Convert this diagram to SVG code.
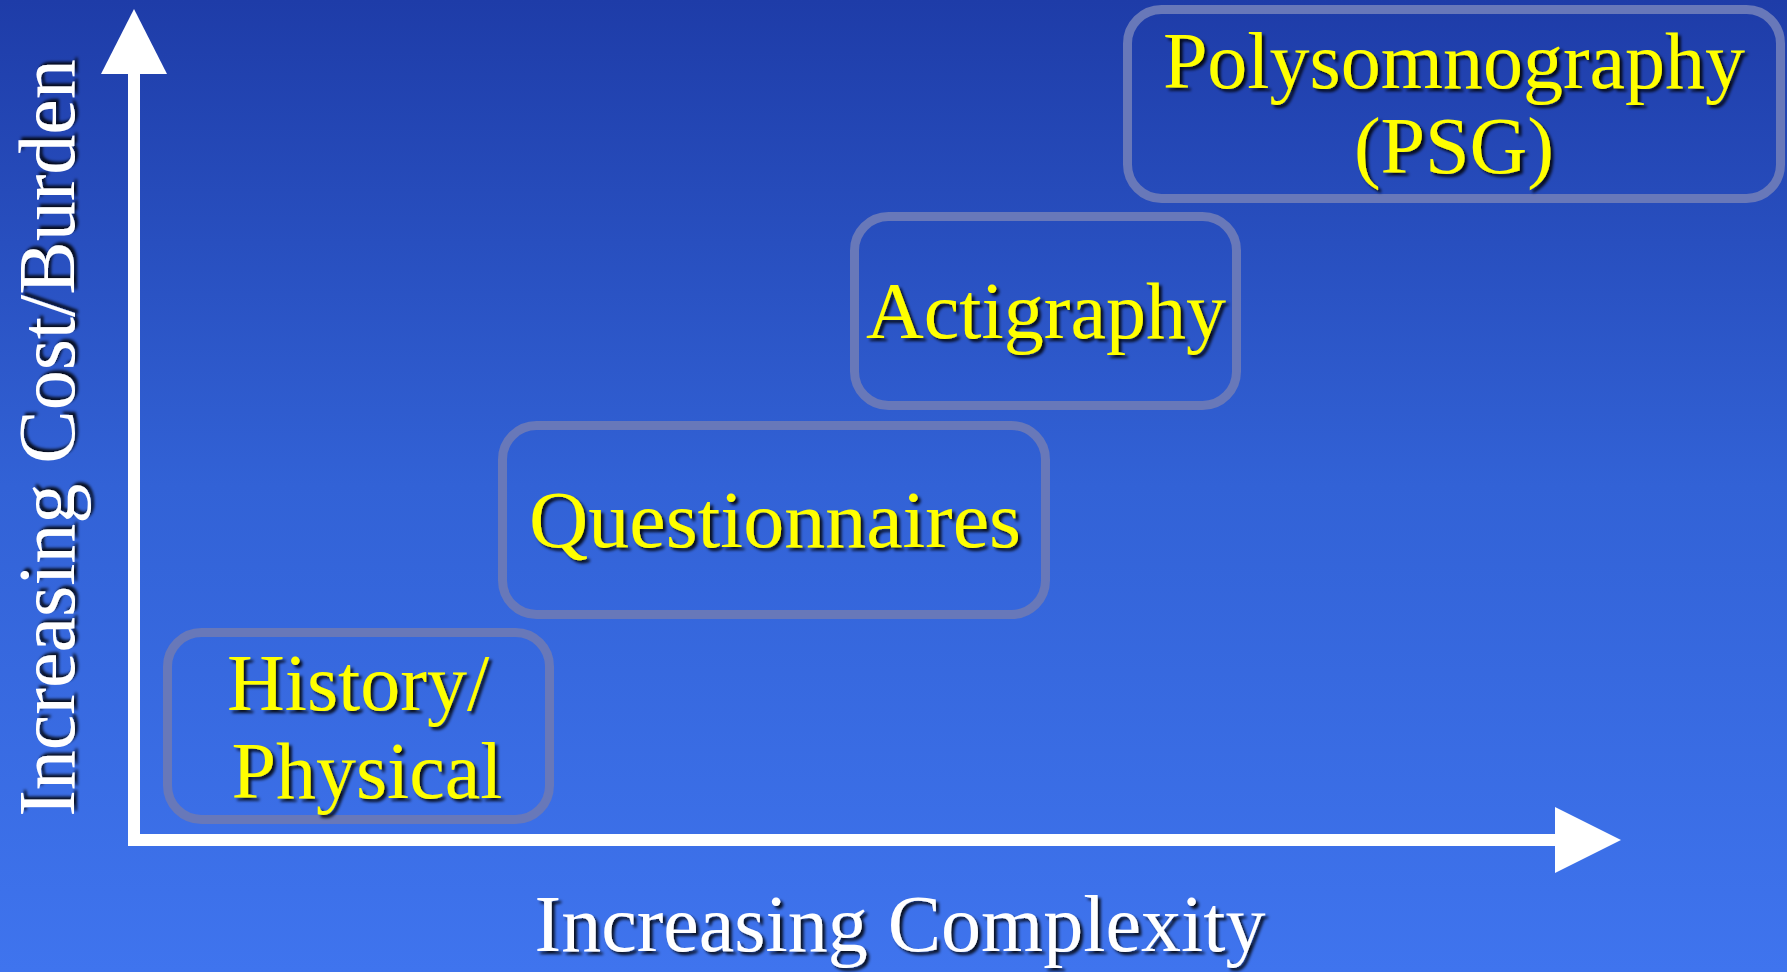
<svg xmlns="http://www.w3.org/2000/svg" width="1787" height="972" viewBox="0 0 1787 972">
<defs>
<linearGradient id="bg" x1="0" y1="0" x2="0" y2="1">
<stop offset="0" stop-color="#1e3ca8"/>
<stop offset="0.5" stop-color="#3262d6"/>
<stop offset="1" stop-color="#3f74ee"/>
</linearGradient>
<filter id="sh" x="-10%" y="-20%" width="120%" height="140%">
<feDropShadow dx="3" dy="3" stdDeviation="1.5" flood-color="#000" flood-opacity="0.85"/>
</filter>
</defs>
<style>
.box{fill:none;stroke:#6878b9;stroke-width:9}
.lbl{font-family:"Liberation Serif","DejaVu Serif",serif;font-size:80px;fill:#ffff00;text-anchor:middle;filter:url(#sh)}
.ax{font-family:"Liberation Serif","DejaVu Serif",serif;font-size:80px;fill:#ffffff;text-anchor:middle;filter:url(#sh)}
.axis{fill:#ffffff}
</style>
<rect x="0" y="0" width="1787" height="972" fill="url(#bg)"/>
<g id="connectors">
<rect class="axis" x="128" y="70" width="12" height="776"/>
<polygon class="axis" points="134,9 167,74 101,74"/>
<rect class="axis" x="134" y="834" width="1425" height="12"/>
<polygon class="axis" points="1621,840 1555,807 1555,873"/>
</g>
<g id="node-history">
<rect class="box" x="167.5" y="632.5" width="382" height="187" rx="34"/>
<text class="lbl" x="358" y="710">History/</text>
<text class="lbl" x="367" y="798">Physical</text>
</g>
<g id="node-questionnaires">
<rect class="box" x="502.5" y="425.5" width="543" height="189" rx="34"/>
<text class="lbl" x="775" y="547" textLength="492" lengthAdjust="spacingAndGlyphs">Questionnaires</text>
</g>
<g id="node-actigraphy">
<rect class="box" x="854.5" y="216.5" width="382" height="189" rx="34"/>
<text class="lbl" x="1046" y="338">Actigraphy</text>
</g>
<g id="node-psg">
<rect class="box" x="1127.5" y="9.5" width="653" height="189" rx="34"/>
<text class="lbl" x="1454" y="88">Polysomnography</text>
<text class="lbl" x="1454" y="173">(PSG)</text>
</g>
<g id="axis-labels">
<text class="ax" x="900" y="951">Increasing Complexity</text>
<text class="ax" transform="translate(74,438) rotate(-90)" x="0" y="0">Increasing Cost/Burden</text>
</g>
</svg>
